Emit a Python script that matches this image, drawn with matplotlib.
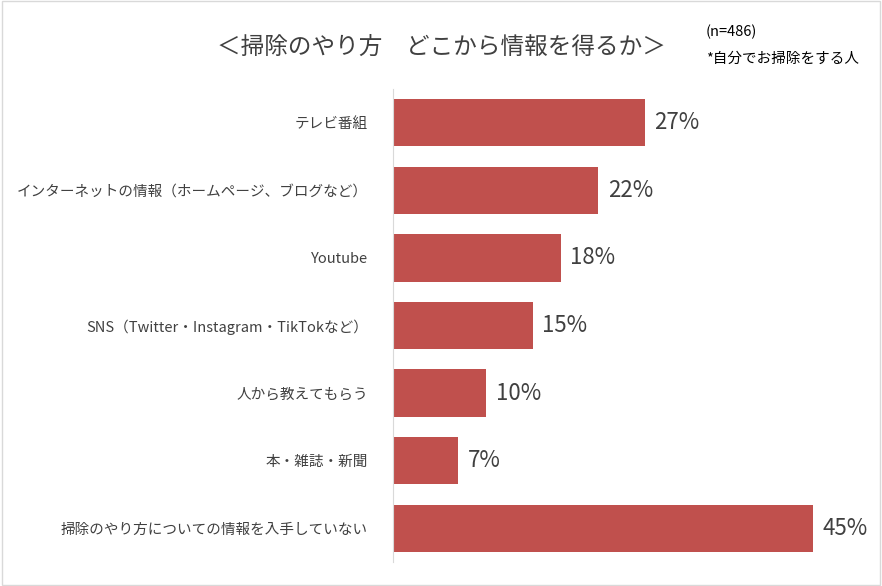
import matplotlib.pyplot as plt
from matplotlib.patches import Rectangle

plt.rcParams['font.family'] = 'Noto Sans CJK JP'

categories = ['テレビ番組', 'インターネットの情報（ホームページ、ブログなど）', 'Youtube',
              'SNS（Twitter・Instagram・TikTokなど）', '人から教えてもらう',
              '本・雑誌・新聞', '掃除のやり方についての情報を入手していない']
values = [27, 22, 18, 15, 10, 7, 45]
labels = ['27%', '22%', '18%', '15%', '10%', '7%', '45%']

fig = plt.figure(figsize=(8.82, 5.86), dpi=100)
ax = fig.add_axes([0.4456, 0.041, 0.505, 0.807])
y = list(range(len(categories)))
ax.barh(y, values, height=0.7, color='#C0504D')
for yi, v, lab in zip(y, values, labels):
    ax.text(v + 1.0, yi, lab, va='center', ha='left', fontsize=16, color='#404040')
ax.set_ylim(len(categories) - 0.5, -0.5)
ax.set_xlim(0, 47.7)
ax.set_yticks(y)
ax.set_yticklabels(categories, fontsize=10.5, color='#404040')
ax.tick_params(axis='y', length=0, pad=18)
ax.set_xticks([])
for s in ['top', 'right', 'bottom']:
    ax.spines[s].set_visible(False)
ax.spines['left'].set_color('#D9D9D9')

fig.text(0.5, 0.92, '＜掃除のやり方　どこから情報を得るか＞', ha='center', va='center',
         fontsize=17, color='#404040')
fig.text(0.80, 0.945, '(n=486)', fontsize=10.5, color='#000000', va='center')
fig.text(0.80, 0.90, '*自分でお掃除をする人', fontsize=10.5, color='#000000', va='center')
fig.patches.append(Rectangle((0.002, 0.002), 0.996, 0.996, transform=fig.transFigure,
                             fill=False, edgecolor='#D9D9D9', linewidth=1))
fig.savefig('out.png', dpi=100)
